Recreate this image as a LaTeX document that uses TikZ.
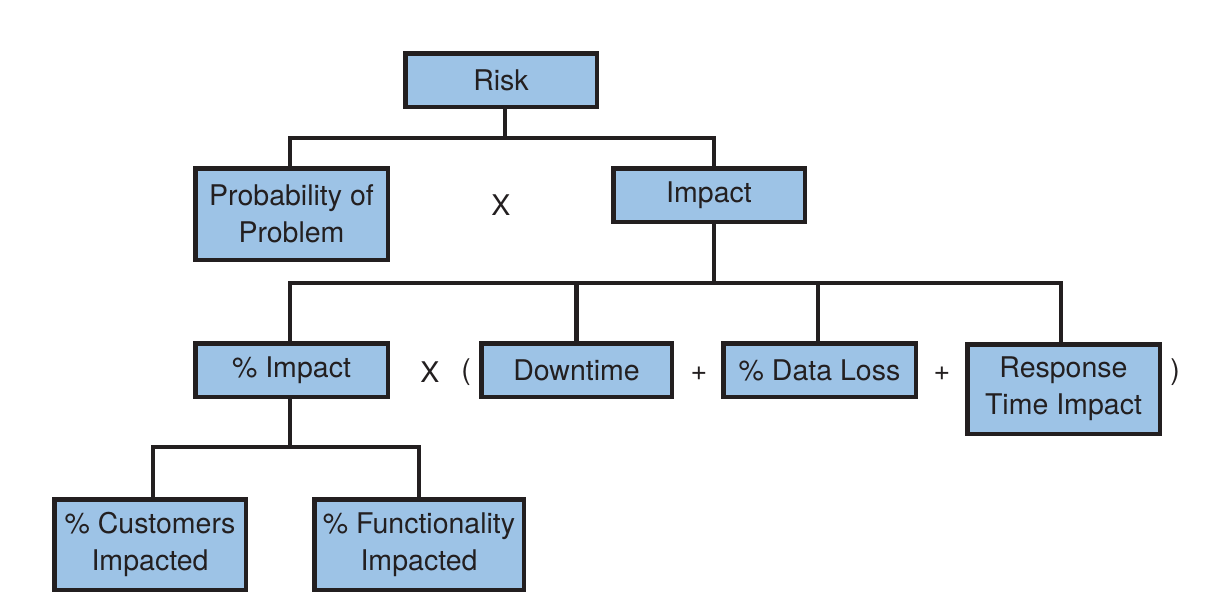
\documentclass[tikz,border=0pt]{standalone}
\usepackage{fontspec}
\setmainfont{TeX Gyre Heros}
\definecolor{boxfill}{HTML}{9DC3E6}
\definecolor{ink}{HTML}{231F20}
\begin{document}
\begin{tikzpicture}[x=1pt,y=-1pt,
  box/.style={draw=ink,fill=boxfill,line width=4.5pt,inner sep=0pt,align=center,
    text=ink,font=\fontsize{28.5}{37}\selectfont},
  conn/.style={draw=ink,line width=4.5pt},
  op/.style={text=ink,font=\fontsize{28.5}{37}\selectfont,inner sep=0pt}]
\useasboundingbox[fill=white] (0,0) rectangle (1219,611);
\node[box,minimum width=191.5pt,minimum height=53.5pt] (risk) at (501,80) {Risk};
\node[box,minimum width=192.5pt,minimum height=91.5pt] (prob) at (291.5,214) {Probability of\\Problem};
\node[box,minimum width=191.5pt,minimum height=53.5pt] (impact) at (709,195) {Impact};
\node[op] (x1) at (501,205) {X};
\node[box,minimum width=192.5pt,minimum height=53.5pt] (pimp) at (291.5,370) {\% Impact};
\node[op] (x2) at (430,372) {X};
\node[op] (lp) at (466,372) {(};
\node[box,minimum width=190.5pt,minimum height=53.5pt] (down) at (576.5,370) {Downtime};
\node[op] (p1) at (699,374) {+};
\node[box,minimum width=192.5pt,minimum height=53.5pt] (dloss) at (819.5,370) {\% Data Loss};
\node[op] (p2) at (942,374) {+};
\node[box,minimum width=192.5pt,minimum height=89.5pt] (resp) at (1063.5,389) {Response\\Time Impact};
\node[op] (rp) at (1175,372) {)};
\node[box,minimum width=191.5pt,minimum height=90.5pt] (cust) at (150,544.5) {\% Customers\\Impacted};
\node[box,minimum width=209.5pt,minimum height=90.5pt] (func) at (419,544.5) {\% Functionality\\Impacted};
% connectors
\coordinate (j1) at (505,138);
\coordinate (j2) at (714,283);
\coordinate (j3) at (290,447);
\draw[conn] (risk.south -| j1) -- (j1);
\draw[conn] (prob.north -| 290,0) |- (j1) -| (impact.north -| j2);
\draw[conn] (impact.south -| j2) -- (j2);
\draw[conn] (pimp.north -| j3) |- (j2) -| (resp.north -| 1061,0);
\draw[conn] (down.north) -- (down.north |- j2);
\draw[conn] (dloss.north -| 818,0) -- (j2 -| 818,0);
\draw[conn] (pimp.south -| j3) -- (j3);
\draw[conn] (cust.north -| 153,0) |- (j3) -| (func.north);
\end{tikzpicture}
\end{document}
